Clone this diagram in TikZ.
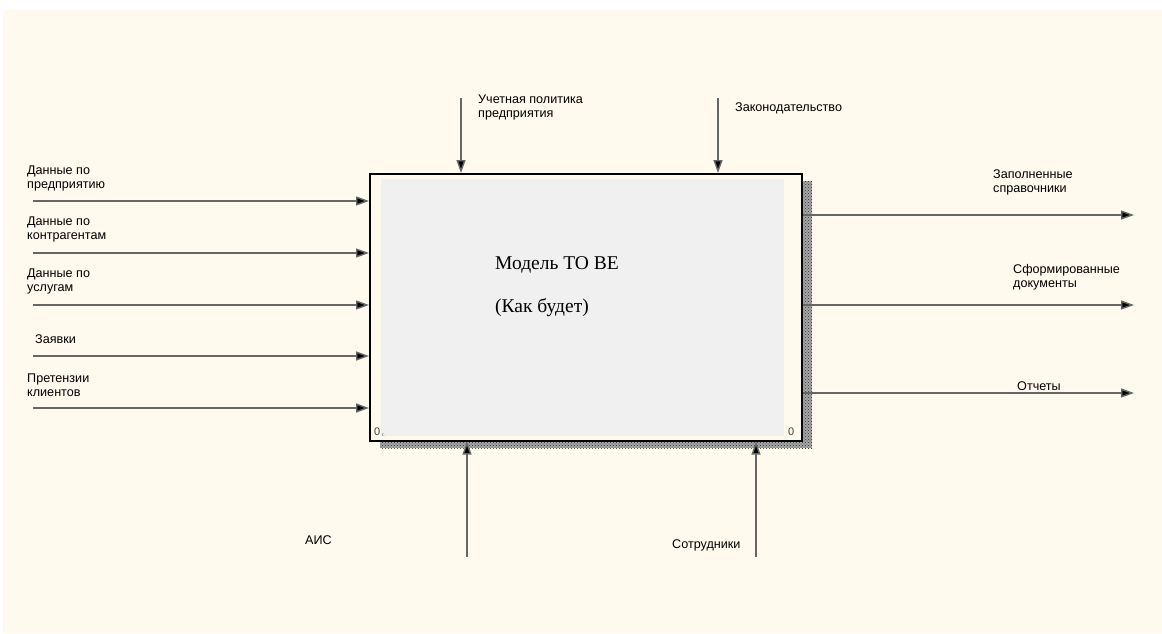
\documentclass[tikz,border=0pt]{standalone}
\usepackage{fontspec}
\setmainfont{Liberation Serif}
\newfontfamily\arialf{Liberation Sans}
\usetikzlibrary{arrows.meta,patterns}
\definecolor{bgcream}{HTML}{FFF9EE}
\definecolor{boxfill}{HTML}{F0F0F0}
\definecolor{linegray}{HTML}{666666}
\tikzset{
  flow/.style={draw=linegray, line width=1.4pt, -{Triangle[length=13pt,width=9pt,fill=black]}},
  lbl/.style={anchor=north west, inner sep=0pt, align=left, font=\arialf\fontsize{12.6}{14}\selectfont},
  title/.style={anchor=west, inner sep=0pt, font=\fontsize{19.5}{22}\selectfont},
  corner/.style={anchor=west, inner sep=0pt, font=\arialf\fontsize{11}{12}\selectfont, text=black!75},
  shadow/.style={fill=black!35, postaction={pattern=crosshatch dots, pattern color=black!80}}
}
\begin{document}
\begin{tikzpicture}[x=1pt,y=-1pt]
\useasboundingbox (0,0) rectangle (1162,633);
\fill[bgcream] (3,10) rectangle (1162,633);
% shadow
\path[shadow] (801,181) rectangle (812,448);
\path[shadow] (380,440) rectangle (812,448);
% box
\node[draw, line width=1.6pt, fill=bgcream, minimum width=432pt, minimum height=267pt, anchor=north west, inner sep=0pt] (box) at (369,173) {};
\fill[boxfill] (381,179) rectangle (784,436);
\node[title] (t1) at (495,265) {Модель ТО ВЕ};
\node[title] (t2) at (495,308) {(Как будет)};
\node[corner] (n0) at (374,432) {0};
\node[corner, font=\arialf\fontsize{5}{6}\selectfont] (n0b) at (382,435) {г.};
\node[corner] (n1) at (788,432) {0};
% inputs
\coordinate (i1) at (33,201);
\coordinate (i2) at (33,253);
\coordinate (i3) at (33,305);
\coordinate (i4) at (33,356);
\coordinate (i5) at (33,408);
\foreach \c in {i1,i2,i3,i4,i5} \draw[flow] (\c) -- (box.west |- \c);
\node[lbl] (li1) at (27,166) {Данные по\\предприятию};
\node[lbl] (li2) at (27,217) {Данные по\\контрагентам};
\node[lbl] (li3) at (27,269) {Данные по\\услугам};
\node[lbl] (li4) at (35,334) {Заявки};
\node[lbl] (li5) at (27,374) {Претензии\\клиентов};
% controls
\coordinate (c1) at (461,98);
\coordinate (c2) at (718,98);
\foreach \c in {c1,c2} \draw[flow] (\c) -- (box.north -| \c);
\node[lbl] (lc1) at (478,95) {Учетная политика\\предприятия};
\node[lbl] (lc2) at (735,103) {Законодательство};
% mechanisms
\coordinate (m1) at (467,557);
\coordinate (m2) at (756,557);
\foreach \c in {m1,m2} \draw[flow] (\c) -- (box.south -| \c);
\node[lbl] (lm1) at (305,535) {АИС};
\node[lbl] (lm2) at (672,539) {Сотрудники};
% outputs
\coordinate (o1) at (1134,215);
\coordinate (o2) at (1134,305);
\coordinate (o3) at (1134,393);
\foreach \c in {o1,o2,o3} \draw[flow] (box.east |- \c) -- (\c);
\node[lbl] (lo1) at (993,170) {Заполненные\\справочники};
\node[lbl] (lo2) at (1013,264) {Сформированные\\документы};
\node[lbl] (lo3) at (1017,381) {Отчеты};
\end{tikzpicture}
\end{document}
